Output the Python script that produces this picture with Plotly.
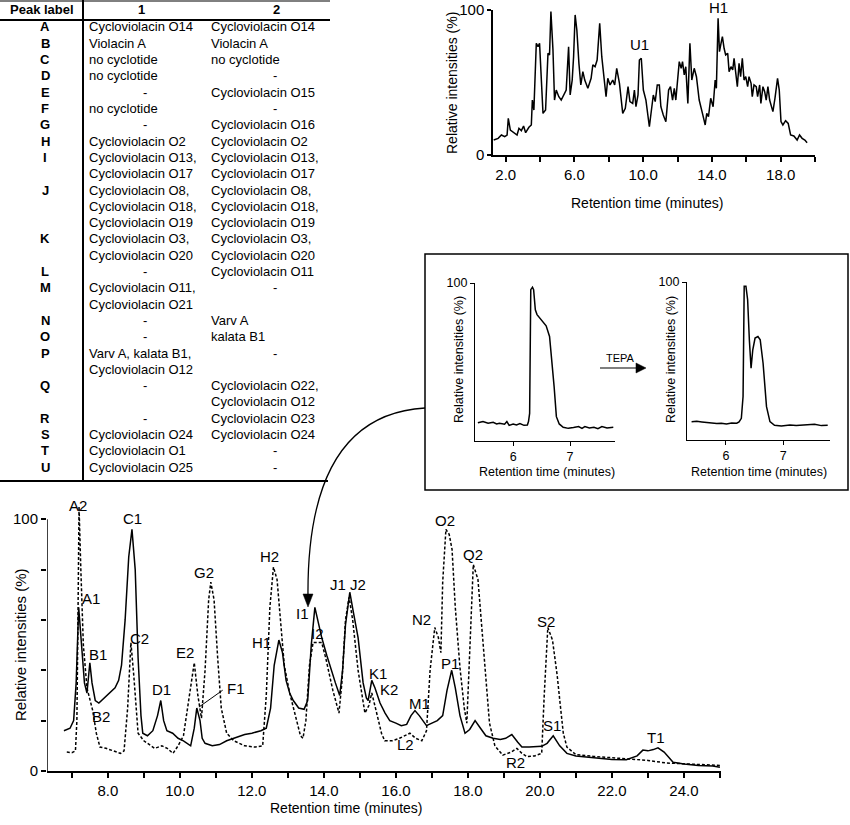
import plotly.graph_objects as go

W, H = 850, 825
FONT = "Arial, Liberation Sans, Helvetica, sans-serif"


def PX(x):
    return x / W


def PY(y):
    return 1 - y / H


# ---------------- table data ----------------
peak_labels = ["A", "B", "C", "D", "E", "F", "G", "H", "I", "J", "K", "L", "M",
               "N", "O", "P", "Q", "R", "S", "T", "U"]
col1 = [["Cycloviolacin O14"], ["Violacin A"], ["no cyclotide"], ["no cyclotide"], ["-"],
        ["no cyclotide"], ["-"], ["Cycloviolacin O2"],
        ["Cycloviolacin O13,", "Cycloviolacin O17"],
        ["Cycloviolacin O8,", "Cycloviolacin O18,", "Cycloviolacin O19"],
        ["Cycloviolacin O3,", "Cycloviolacin O20"], ["-"],
        ["Cycloviolacin O11,", "Cycloviolacin O21"], ["-"], ["-"],
        ["Varv A, kalata B1,", "Cycloviolacin O12"], ["-"], ["-"],
        ["Cycloviolacin O24"], ["Cycloviolacin O1"], ["Cycloviolacin O25"]]
col2 = [["Cycloviolacin O14"], ["Violacin A"], ["no cyclotide"], ["-"], ["Cycloviolacin O15"],
        ["-"], ["Cycloviolacin O16"], ["Cycloviolacin O2"],
        ["Cycloviolacin O13,", "Cycloviolacin O17"],
        ["Cycloviolacin O8,", "Cycloviolacin O18,", "Cycloviolacin O19"],
        ["Cycloviolacin O3,", "Cycloviolacin O20"], ["Cycloviolacin O11"], ["-"],
        ["Varv A"], ["kalata B1"], ["-"],
        ["Cycloviolacin O22,", "Cycloviolacin O12"], ["Cycloviolacin O23"],
        ["Cycloviolacin O24"], ["-"], ["-"]]

# ---------------- top-right chromatogram ----------------
tr_t = [1.30, 1.56, 1.75, 1.94, 2.08, 2.15, 2.27, 2.52, 2.66, 2.77, 2.91, 3.04, 3.16, 3.35, 3.49,
        3.55, 3.64, 3.78, 3.88, 3.97, 4.17, 4.32, 4.46, 4.55, 4.63, 4.75, 4.84, 4.94, 5.09, 5.23,
        5.37, 5.52, 5.66, 5.75, 5.87, 5.95, 6.04, 6.14, 6.26, 6.37, 6.49, 6.60, 6.78, 6.97, 7.07,
        7.20, 7.32, 7.47, 7.59, 7.71, 7.84, 7.94, 8.07, 8.23, 8.34, 8.46, 8.62, 8.81, 8.96, 9.12,
        9.23, 9.39, 9.49, 9.58, 9.70, 9.78, 9.89, 10.01, 10.16, 10.36, 10.51, 10.59, 10.70, 10.82,
        10.94, 11.03, 11.17, 11.32, 11.48, 11.59, 11.71, 11.81, 11.90, 12.00, 12.10, 12.21, 12.29,
        12.39, 12.48, 12.60, 12.72, 12.83, 12.97, 13.10, 13.26, 13.45, 13.61, 13.70, 13.80, 13.93,
        14.07, 14.19, 14.26, 14.36, 14.44, 14.53, 14.61, 14.71, 14.80, 14.92, 15.00, 15.11, 15.21,
        15.29, 15.38, 15.48, 15.58, 15.67, 15.77, 15.87, 15.97, 16.08, 16.16, 16.28, 16.35, 16.45,
        16.58, 16.66, 16.78, 16.85, 16.97, 17.07, 17.16, 17.26, 17.36, 17.55, 17.67, 17.82, 17.92,
        18.02, 18.13, 18.29, 18.44, 18.58, 18.77, 18.96, 19.10, 19.25, 19.41, 19.54]
tr_v = [10.3, 11.5, 13.8, 12.6, 13.8, 25.3, 17.2, 14.9, 13.8, 18.4, 16.8, 20.0, 15.4, 19.1, 20.7,
        37.9, 31.0, 77.0, 74.7, 77.0, 28.7, 31.0, 70.1, 69.0, 98.9, 72.4, 37.9, 44.8, 40.2, 37.9,
        41.4, 44.8, 74.7, 41.4, 51.7, 67.8, 96.6, 86.2, 63.2, 48.3, 57.5, 51.7, 46.0, 52.9, 62.1,
        60.9, 65.5, 90.8, 67.8, 54.0, 40.2, 52.9, 48.3, 51.7, 48.3, 59.8, 49.4, 28.7, 32.2, 47.1,
        36.8, 35.6, 44.8, 33.3, 41.4, 65.5, 66.7, 44.8, 37.9, 19.5, 32.2, 41.4, 36.8, 48.3,
        48.3, 33.3, 27.6, 23.0, 44.8, 47.1, 37.9, 46.0, 37.9, 51.7, 64.4, 59.8, 64.4,
        55.2, 60.9, 35.6, 77.0, 51.7, 59.8, 54.0, 37.9, 28.7, 20.7, 28.7, 26.4, 39.1,
        33.3, 51.7, 46.0, 94.3, 71.3, 77.0, 81.6, 73.6, 69.0, 70.1, 57.5, 60.9, 58.6,
        66.7, 56.3, 47.1, 63.2, 54.0, 66.7, 51.7, 54.0, 47.1, 54.0, 49.4, 40.2, 48.3,
        47.1, 40.2, 48.3, 35.6, 47.1, 43.7, 37.9, 47.1, 37.9, 29.9, 39.1, 52.9, 44.8,
        23.0, 20.7, 23.7, 21.8, 13.8, 13.1, 10.3, 13.8, 11.5, 10.3, 8.5]

# ---------------- inset chromatograms ----------------
inL_t = [5.38, 5.47, 5.56, 5.65, 5.71, 5.76, 5.85, 5.89, 5.93, 6.00, 6.06, 6.12, 6.19, 6.25, 6.27,
         6.29, 6.31, 6.34, 6.36, 6.39, 6.42, 6.50, 6.58, 6.64, 6.68, 6.72, 6.76, 6.81, 6.88, 6.97,
         7.06, 7.15, 7.21, 7.26, 7.34, 7.42, 7.49, 7.56, 7.65, 7.76]
inL_v = [11.6, 12.3, 11.2, 11.8, 10.8, 11.2, 10.6, 12.3, 9.9, 10.8, 10.1, 11.0, 9.9, 10.1, 12.3,
         17.5, 95.8, 97.3, 95.8, 83.0, 80.0, 76.7, 72.9, 66.2, 51.4, 34.5, 15.4, 10.8, 8.7, 8.0,
         8.5, 9.1, 8.0, 9.1, 8.2, 8.7, 7.8, 9.1, 8.2, 8.7]
inR_t = [5.40, 5.49, 5.58, 5.66, 5.75, 5.84, 5.92, 6.01, 6.10, 6.19, 6.23, 6.27, 6.30, 6.32, 6.35,
         6.38, 6.41, 6.44, 6.47, 6.51, 6.56, 6.60, 6.65, 6.71, 6.77, 6.85, 6.97, 7.12, 7.23, 7.35,
         7.55, 7.67, 7.78]
inR_v = [11.6, 11.8, 11.4, 11.0, 10.6, 10.4, 10.6, 10.1, 10.8, 10.6, 11.4, 13.7, 27.5, 97.3, 97.3,
         88.8, 63.4, 45.5, 57.1, 64.5, 65.5, 63.4, 48.6, 21.1, 11.6, 9.3, 8.9, 9.5, 9.1, 9.3,
         9.9, 9.1, 9.3]

# ---------------- main chromatogram ----------------
s1_t = [6.78, 6.95, 7.05, 7.12, 7.19, 7.27, 7.35, 7.42, 7.47, 7.50, 7.56, 7.65, 7.75, 7.90, 8.05,
        8.20, 8.30, 8.38, 8.48, 8.58, 8.67, 8.76, 8.84, 8.92, 8.97, 9.10, 9.25, 9.38, 9.47, 9.55,
        9.64, 9.80, 9.95, 10.10, 10.30, 10.40, 10.47, 10.56, 10.62, 10.70, 10.90, 11.10, 11.30,
        11.50, 11.80, 12.00, 12.25, 12.40, 12.52, 12.62, 12.75, 12.85, 12.95, 13.05, 13.15, 13.30,
        13.45, 13.55, 13.65, 13.75, 13.85, 13.94, 14.08, 14.20, 14.32, 14.44, 14.52, 14.60, 14.72,
        14.82, 14.95, 15.09, 15.18, 15.23, 15.33, 15.42, 15.56, 15.70, 15.83, 16.00, 16.15, 16.30,
        16.42, 16.53, 16.65, 16.85, 17.00, 17.15, 17.30, 17.42, 17.55, 17.65, 17.78, 17.92, 18.05,
        18.20, 18.35, 18.50, 18.70, 18.90, 19.05, 19.22, 19.38, 19.50, 19.70, 19.90, 20.05, 20.20,
        20.37, 20.55, 20.75, 21.00, 21.30, 21.60, 22.00, 22.40, 22.70, 22.86, 23.00, 23.15, 23.28,
        23.45, 23.70, 24.00, 24.40, 24.80, 25.00]
s1_v = [16, 17, 20, 35, 65, 50, 35, 31, 40, 43, 35, 28, 27, 29, 31,
        33, 36, 42, 60, 85, 96, 80, 45, 22, 15, 14, 16, 22, 28, 20,
        16, 15, 13, 12, 10, 17, 25, 20, 13, 11, 10, 10.5, 12,
        13, 14.5, 15, 16, 17, 25, 42, 52, 47, 36, 31, 28, 25,
        24.5, 28, 50, 65, 58, 53, 46, 40, 35, 30, 40, 58, 71,
        63, 53, 35, 29, 28, 36, 33, 27, 23, 20, 19, 18, 18.5,
        22, 24, 22, 18, 19, 20, 22, 32, 40, 33, 22, 15, 16.5,
        20, 17, 14, 13, 12.5, 13, 14.5, 11.5, 9.5, 9.5, 9.6, 9.8, 11,
        14, 10, 7, 6, 5.5, 5, 4.6, 4.5, 6, 8.3, 8, 8.5, 9.2,
        7.5, 3.5, 2.8, 2.2, 2, 1.5]
s2_t = [6.86, 7.00, 7.10, 7.14, 7.17, 7.20, 7.25, 7.32, 7.42, 7.50, 7.58, 7.68, 7.78, 7.95, 8.15,
        8.35, 8.45, 8.55, 8.64, 8.72, 8.84, 9.00, 9.10, 9.30, 9.50, 9.65, 9.81, 9.95, 10.10, 10.25,
        10.40, 10.50, 10.60, 10.70, 10.80, 10.86, 10.95, 11.05, 11.15, 11.30, 11.50, 11.80, 12.10,
        12.30, 12.40, 12.50, 12.60, 12.70, 12.80, 12.90, 13.05, 13.20, 13.35, 13.42, 13.50, 13.60,
        13.70, 13.94, 14.05, 14.25, 14.35, 14.42, 14.50, 14.60, 14.70, 14.80, 14.95, 15.14, 15.25,
        15.33, 15.45, 15.60, 15.69, 15.90, 16.10, 16.25, 16.39, 16.55, 16.72, 16.85, 16.95, 17.08,
        17.18, 17.25, 17.30, 17.39, 17.48, 17.56, 17.65, 17.78, 17.90, 17.97, 18.05, 18.15, 18.28,
        18.40, 18.50, 18.60, 18.75, 18.97, 19.20, 19.36, 19.50, 19.64, 19.85, 20.05, 20.12, 20.22,
        20.35, 20.48, 20.56, 20.65, 20.75, 21.00, 21.50, 22.00, 22.50, 23.00, 23.50, 24.00, 24.50,
        25.00]
s2_v = [7.5, 7.3, 8, 20, 60, 105, 80, 50, 33, 28, 24, 15, 9.5, 9, 8,
        7, 8, 25, 51, 38, 15, 12, 11, 9, 10, 9, 7, 10, 14, 28,
        43, 30, 21, 40, 68, 75, 68, 45, 25, 15, 12, 10, 9.5,
        10, 30, 65, 81, 76, 60, 42, 31, 22, 14, 13, 20, 42,
        51, 51, 45, 32, 27, 23, 35, 60, 69, 60, 40, 23, 26,
        31, 24, 15, 12, 12, 13, 14, 15, 13, 12, 16, 40, 57,
        53, 47, 75, 96, 94, 88, 65, 41, 25, 19, 45, 82, 76,
        55, 35, 19, 10, 6.3, 7.5, 9, 7, 5.7, 6, 7, 30, 57,
        52, 38, 27, 15, 9.5, 6.5, 5.8, 5.3, 4.8, 4.2, 3.2, 2.8, 2.4,
        2.2]
main_labels = [("A2", 7.17, 105.6), ("A1", 7.53, 68.6), ("B1", 7.73, 46.4), ("B2", 7.80, 21.8),
               ("C1", 8.69, 100.4), ("C2", 8.89, 52.8), ("D1", 9.49, 32.5), ("E2", 10.14, 47.2),
               ("F1", 11.56, 32.9), ("G2", 10.67, 79.0), ("H2", 12.50, 85.3), ("H1", 12.27, 51.2),
               ("I1", 13.42, 62.7), ("I2", 13.83, 54.8), ("J1", 14.39, 74.2), ("J2", 14.95, 74.2),
               ("K1", 15.49, 38.9), ("K2", 15.81, 32.5), ("M1", 16.65, 27.0), ("L2", 16.28, 10.7),
               ("N2", 16.72, 60.3), ("O2", 17.36, 99.6), ("P1", 17.50, 42.5), ("Q2", 18.14, 86.1),
               ("S2", 20.17, 59.5), ("S1", 20.33, 17.9), ("R2", 19.33, 3.2), ("T1", 23.22, 13.5)]

fig = go.Figure()
LW = 1.5
fig.add_trace(go.Scatter(x=s2_t, y=s2_v, mode="lines", xaxis="x", yaxis="y",
                         line=dict(color="black", width=LW, dash="3px,2px")))
fig.add_trace(go.Scatter(x=s1_t, y=s1_v, mode="lines", xaxis="x", yaxis="y",
                         line=dict(color="black", width=LW)))
fig.add_trace(go.Scatter(x=tr_t, y=tr_v, mode="lines", xaxis="x2", yaxis="y2",
                         line=dict(color="black", width=LW)))
fig.add_trace(go.Scatter(x=inL_t, y=inL_v, mode="lines", xaxis="x3", yaxis="y3",
                         line=dict(color="black", width=LW)))
fig.add_trace(go.Scatter(x=inR_t, y=inR_v, mode="lines", xaxis="x4", yaxis="y4",
                         line=dict(color="black", width=LW)))

ann = []
shapes = []


def text(x, y, s, size=13, xanchor="center", angle=0, bold=False):
    ann.append(dict(x=PX(x), y=PY(y), xref="paper", yref="paper", text=("<b>%s</b>" % s) if bold else s,
                    showarrow=False, xanchor=xanchor, yanchor="middle", textangle=angle,
                    font=dict(family=FONT, size=size, color="black")))


def line(x0, y0, x1, y1, w=1.5):
    shapes.append(dict(type="line", xref="paper", yref="paper", x0=PX(x0), y0=PY(y0),
                       x1=PX(x1), y1=PY(y1), line=dict(color="black", width=w)))


# ---- table ----
TS = 13
text(42, 10, "Peak label", TS, bold=True)
text(141, 10, "1", TS, bold=True)
text(276, 10, "2", TS, bold=True)
line(0, 1, 330, 1, 1)
line(0, 20, 330, 20, 2)
line(83, 0, 83, 481, 2)
line(0, 481, 328, 481, 2)
row = 0
y0, step = 27, 16.3
for lab, c1, c2 in zip(peak_labels, col1, col2):
    y = y0 + row * step
    text(45, y, lab, TS, bold=True)
    for i, s in enumerate(c1):
        if s == "-":
            text(145, y + i * step, s, TS)
        else:
            text(87, y + i * step, s, TS, xanchor="left")
    for i, s in enumerate(c2):
        if s == "-":
            text(275, y + i * step, s, TS)
        else:
            text(209, y + i * step, s, TS, xanchor="left")
    row += max(len(c1), len(c2))

# ---- axis titles ----
text(20, 645, "Relative intensities (%)", 15, angle=-90)
text(346, 808, "Retention time (minutes)", 14)
text(452, 83, "Relative intensities (%)", 14, angle=-90)
text(647, 203, "Retention time (minutes)", 14)
text(459, 360, "Relative intensities (%)", 12.5, angle=-90)
text(547, 472, "Retention time (minutes)", 12.5)
text(671, 360, "Relative intensities (%)", 12.5, angle=-90)
text(759, 472, "Retention time (minutes)", 12.5)

# ---- peak labels ----
for s, t, v in main_labels:
    ann.append(dict(x=t, y=v, xref="x", yref="y", text=s, showarrow=False,
                    font=dict(family=FONT, size=15, color="black")))
ann.append(dict(x=9.78, y=76.0, xref="x2", yref="y2", text="U1", showarrow=False,
                font=dict(family=FONT, size=15, color="black")))
text(718, 8, "H1", 15)   # top-right label sitting above the plot frame
# F1 leader line
shapes.append(dict(type="line", xref="x", yref="y", x0=11.19, y0=32.1, x1=10.53, y1=25.4,
                   line=dict(color="black", width=1)))
# main y axis line (0..100)
shapes.append(dict(type="line", xref="x", yref="y", x0=6.31, y0=0, x1=6.31, y1=100,
                   line=dict(color="black", width=1.5)))

# ---- inset box ----
shapes.append(dict(type="rect", xref="paper", yref="paper", x0=PX(425), y0=PY(490), x1=PX(848),
                   y1=PY(254), line=dict(color="black", width=1.5)))
# TEPA arrow
line(600, 368, 638, 368, 1.2)
shapes.append(dict(type="path", xref="paper", yref="paper",
                   path="M %f %f L %f %f L %f %f Z" % (PX(636), PY(363), PX(646), PY(368), PX(636), PY(373)),
                   fillcolor="black", line=dict(color="black", width=0.5)))
text(620, 358, "TEPA", 11)
# curved arrow from box to I1
shapes.append(dict(type="path", xref="paper", yref="paper",
                   path="M %f %f Q %f %f %f %f" % (PX(425), PY(408), PX(306), PY(415), PX(308), PY(598)),
                   line=dict(color="black", width=1.3)))
shapes.append(dict(type="path", xref="paper", yref="paper",
                   path="M %f %f L %f %f L %f %f Z" % (PX(303), PY(594), PX(308), PY(607), PX(313), PY(594)),
                   fillcolor="black", line=dict(color="black", width=0.5)))

ax_common = dict(showgrid=False, zeroline=False, ticks="outside", linecolor="black",
                 tickcolor="black", tickfont=dict(family=FONT, size=15, color="black"))

main_xt = list(range(7, 26))
main_xl = [("%.1f" % v) if (v % 2 == 0) else "" for v in main_xt]
top_xt = list(range(2, 21, 2))
top_xl = [("%.1f" % v) if v in (2, 6, 10, 14, 18) else "" for v in top_xt]

fig.update_layout(
    width=W, height=H, margin=dict(l=0, r=0, t=0, b=0, autoexpand=False),
    paper_bgcolor="white", plot_bgcolor="white", showlegend=False,
    font=dict(family=FONT, color="black"),
    xaxis=dict(domain=[PX(47), PX(721)], range=[6.31, 25.03], anchor="y", tickvals=main_xt,
               ticktext=main_xl, showline=True, linewidth=1.5, ticklen=5, tickwidth=1.5, **ax_common),
    yaxis=dict(domain=[PY(771), PY(489)], range=[0, 112], anchor="x", tickvals=[0, 20, 40, 60, 80, 100],
               ticktext=["0", "", "", "", "", "100"], showline=False, ticklen=5, tickwidth=1.5, **ax_common),
    xaxis2=dict(domain=[PX(493), PX(815)], range=[1.26, 20.0], anchor="y2", tickvals=top_xt,
                ticktext=top_xl, showline=True, linewidth=1.5, ticklen=5, tickwidth=1.5, **ax_common),
    yaxis2=dict(domain=[PY(155), PY(10)], range=[0, 100], anchor="x2", tickvals=[0, 100],
                ticktext=["0", "100"], showline=True, linewidth=1.5, ticklen=4, tickwidth=1.5, **ax_common),
    xaxis3=dict(domain=[PX(475), PX(615)], range=[5.33, 7.79], anchor="y3", tickvals=[6, 7],
                ticktext=["6", "7"], showline=True, linewidth=1.3, ticklen=4, **ax_common),
    yaxis3=dict(domain=[PY(441), PY(283)], range=[0, 100], anchor="x3", tickvals=[100],
                ticktext=["100"], showline=True, linewidth=1.3, ticklen=4, **ax_common),
    xaxis4=dict(domain=[PX(687), PX(830)], range=[5.32, 7.82], anchor="y4", tickvals=[6, 7],
                ticktext=["6", "7"], showline=True, linewidth=1.3, ticklen=4, **ax_common),
    yaxis4=dict(domain=[PY(440), PY(282)], range=[0, 100], anchor="x4", tickvals=[100],
                ticktext=["100"], showline=True, linewidth=1.3, ticklen=4, **ax_common),
    annotations=ann, shapes=shapes,
)
for ax in ("xaxis3", "yaxis3", "xaxis4", "yaxis4"):
    fig.layout[ax].tickfont.size = 12.5
for ax in ("xaxis", "yaxis", "xaxis2", "yaxis2", "xaxis3", "yaxis3", "xaxis4", "yaxis4"):
    fig.layout[ax].automargin = False

fig.write_html("out.html", config={"displayModeBar": False},
               post_script="document.body.style.margin='0px';")
